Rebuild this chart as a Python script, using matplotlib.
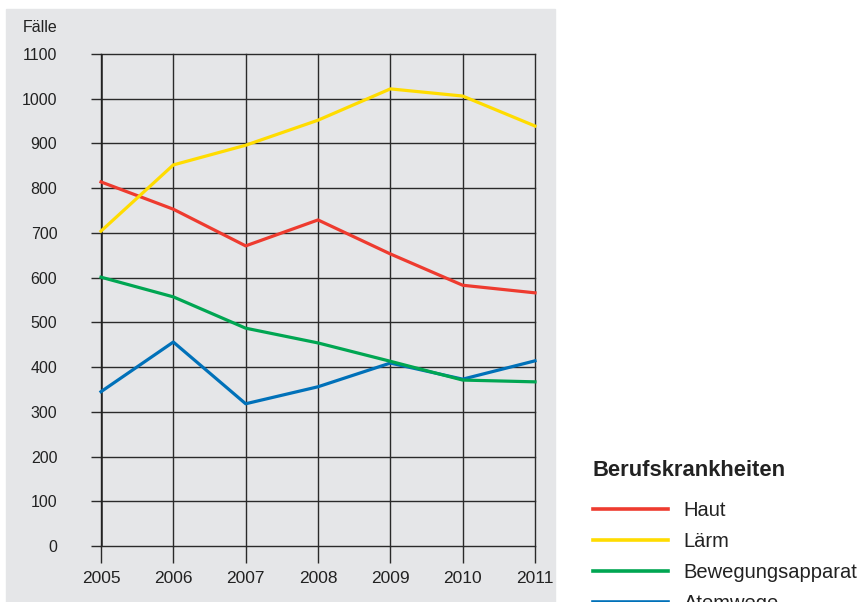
import matplotlib.pyplot as plt
from matplotlib.patches import Rectangle

plt.rcParams['font.family'] = ['Liberation Sans', 'DejaVu Sans']

jahre = [2005, 2006, 2007, 2008, 2009, 2010, 2011]
haut = [814, 753, 671, 729, 653, 583, 566]
laerm = [704, 852, 896, 952, 1022, 1006, 939]
bewegung = [601, 557, 487, 454, 413, 371, 367]
atemwege = [345, 456, 318, 356, 409, 373, 414]
namen = ['Haut', 'Lärm', 'Bewegungsapparat', 'Atemwege']
farben = ['#ee3b2f', '#ffdc00', '#00a652', '#0071b9']
y_ticks = list(range(0, 1101, 100))

W, H = 866, 602
fig = plt.figure(figsize=(W / 100, H / 100), dpi=100)

# grauer Hintergrund hinter dem Diagramm
fig.add_artist(Rectangle((6 / W, 0), 549 / W, (H - 9) / H,
                         transform=fig.transFigure, color='#e5e6e8', zorder=0))

ax = fig.add_axes([101 / W, 1 - 546 / H, 434 / W, 492 / H])
ax.set_facecolor('none')
for s in ax.spines.values():
    s.set_visible(False)

z = [3, 3, 4, 3]
for werte, farbe, name, zz in zip([haut, laerm, bewegung, atemwege], farben, namen, z):
    ax.plot(jahre, werte, color=farbe, lw=2.3, label=name, zorder=zz, clip_on=False)

ax.set_xlim(2005, 2011)
ax.set_ylim(0, 1100)
ax.set_xticks(jahre)
ax.set_yticks(y_ticks)
ax.grid(True, color='#2a2a2a', lw=1.0)
for gl in ax.get_xgridlines() + ax.get_ygridlines():
    gl.set_clip_on(False)
ax.axvline(2005, color='#222222', lw=1.8, zorder=2)
ax.tick_params(axis='y', length=7.5, width=1.0, color='#2a2a2a', pad=24,
               labelsize=11.5, labelcolor='#222222')
ax.tick_params(axis='x', length=12, width=1.0, color='#2a2a2a', pad=6,
               labelsize=12.5, labelcolor='#222222')

fig.text(57 / W, 1 - 27 / H, 'Fälle', ha='right', va='center', fontsize=11.5,
         color='#222222')

# Legende (unten abgeschnitten wie im Original)
fig.text(593 / W, 1 - 470 / H, 'Berufskrankheiten', ha='left', va='center',
         fontsize=15.8, fontweight='bold', color='#222222')
leg = fig.legend(loc='upper left', bbox_to_anchor=(593 / W, 1 - 501 / H),
                 frameon=False, fontsize=14.5, handlelength=3.7,
                 handletextpad=0.8, labelspacing=0.6, borderpad=0,
                 borderaxespad=0)
for t in leg.get_texts():
    t.set_color('#222222')
for l in leg.get_lines():
    l.set_linewidth(2.6)

fig.savefig('out.png', dpi=100)
